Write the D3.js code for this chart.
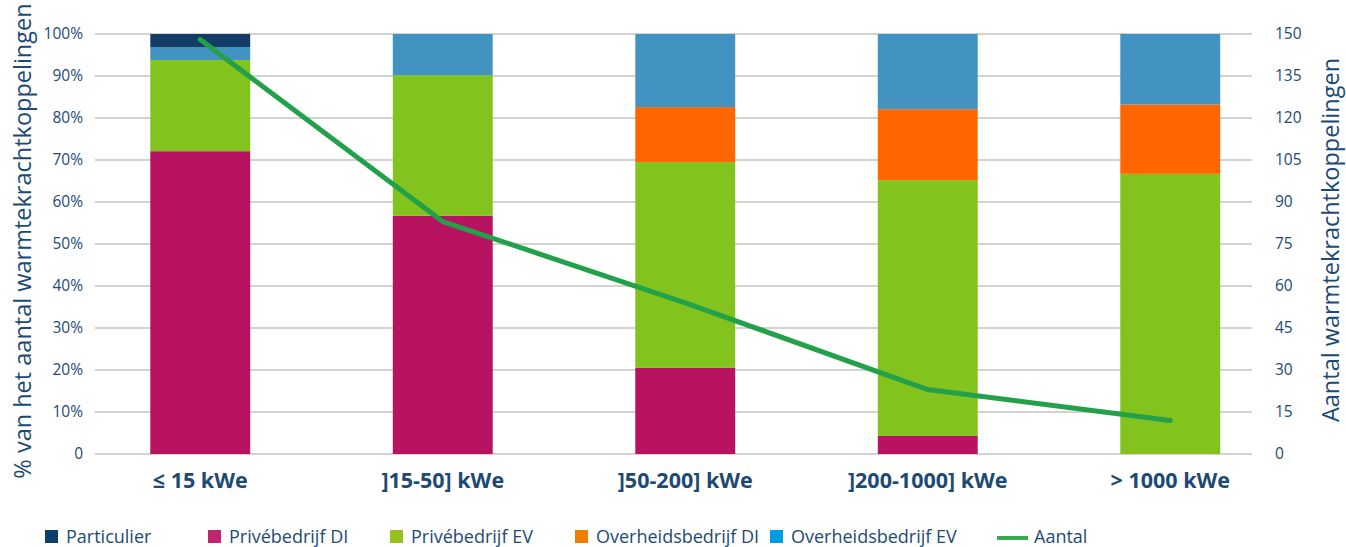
<!DOCTYPE html>
<html><head><meta charset="utf-8">
<script src="https://cdn.jsdelivr.net/npm/d3@7"></script>
<style>body{margin:0;background:#fff}svg{display:block}</style>
</head><body>
<svg id="chart" width="1346" height="547"></svg>
<script>
const categories = ["≤ 15 kWe", "]15-50] kWe", "]50-200] kWe", "]200-1000] kWe", "> 1000 kWe"];
const seriesNames = ["Particulier", "Privébedrijf DI", "Privébedrijf EV", "Overheidsbedrijf DI", "Overheidsbedrijf EV"];
const particulier = [3.1, 0, 0, 0, 0];
const priveDI = [72.1, 56.7, 20.5, 4.3, 0];
const priveEV = [21.7, 33.5, 49.0, 60.9, 66.7];
const overheidDI = [0, 0, 13.1, 16.9, 16.5];
const overheidEV = [3.1, 9.8, 17.4, 17.9, 16.8];
const aantal = [148, 83, 54, 23, 12];
const leftTicks = [0,10,20,30,40,50,60,70,80,90,100];
const rightTicks = [0,15,30,45,60,75,90,105,120,135,150];

const barColors = {"Particulier":"#143d66","Privébedrijf DI":"#b81360","Privébedrijf EV":"#82c31e","Overheidsbedrijf DI":"#ff6600","Overheidsbedrijf EV":"#4292c2"};
const legendColors = {"Particulier":"#0c3f6b","Privébedrijf DI":"#c0256e","Privébedrijf EV":"#97c11f","Overheidsbedrijf DI":"#f07f00","Overheidsbedrijf EV":"#009ee0"};
const textColor = "#1c4a75";
const font = "'Open Sans', sans-serif";

const stackOrder = ["Privébedrijf DI","Privébedrijf EV","Overheidsbedrijf DI","Overheidsbedrijf EV","Particulier"];
const valuesBy = {"Particulier":particulier,"Privébedrijf DI":priveDI,"Privébedrijf EV":priveEV,"Overheidsbedrijf DI":overheidDI,"Overheidsbedrijf EV":overheidEV};
const rows = categories.map((c,i)=>{const r={cat:c}; seriesNames.forEach(s=>r[s]=valuesBy[s][i]); return r;});

const svg = d3.select("#chart");
const x = d3.scaleBand().domain(categories).range([79, 1291.5]).paddingInner(0.588).paddingOuter(0.294);
const y = d3.scaleLinear().domain([0,100]).range([454,34]);
const y2 = d3.scaleLinear().domain([0,150]).range([454,34]);
const gridX0 = 95, gridX1 = 1252;

svg.append("g").selectAll("line").data(leftTicks).join("line")
  .attr("x1",gridX0).attr("x2",gridX1).attr("y1",d=>y(d)).attr("y2",d=>y(d))
  .attr("stroke","#c4c4c4").attr("stroke-width",1.5);

const stack = d3.stack().keys(stackOrder)(rows);
svg.append("g").selectAll("g").data(stack).join("g")
  .attr("fill",d=>barColors[d.key])
  .selectAll("rect").data(d=>d).join("rect")
  .attr("x",d=>x(d.data.cat)).attr("width",x.bandwidth())
  .attr("y",d=>y(d[1])).attr("height",d=>Math.max(0,y(d[0])-y(d[1])));

const line = d3.line().x((d,i)=>x(categories[i])+x.bandwidth()/2).y(d=>y2(d));
svg.append("path").datum(aantal).attr("d",line).attr("fill","none")
  .attr("stroke","#23a04a").attr("stroke-width",5).attr("stroke-linecap","round").attr("stroke-linejoin","round");

svg.append("g").selectAll("text").data(leftTicks).join("text")
  .attr("x",83).attr("y",d=>y(d)).attr("dy","0.35em").attr("text-anchor","end")
  .attr("font-family",font).attr("font-size",15.5).attr("fill",textColor)
  .text(d=>d===0?"0":d+"%");

svg.append("g").selectAll("text").data(rightTicks).join("text")
  .attr("x",1275).attr("y",d=>y2(d)).attr("dy","0.35em").attr("text-anchor","start")
  .attr("font-family",font).attr("font-size",15.5).attr("fill",textColor)
  .text(d=>d);

svg.append("g").selectAll("text").data(categories).join("text")
  .attr("x",d=>x(d)+x.bandwidth()/2).attr("y",480).attr("dy","0.35em").attr("text-anchor","middle")
  .attr("font-family",font).attr("font-weight","bold").attr("font-size",21.5).attr("fill",textColor)
  .text(d=>d);

svg.append("text").attr("transform","translate(31,241) rotate(-90)").attr("text-anchor","middle")
  .attr("font-family",font).attr("font-size",23.5).attr("fill",textColor)
  .text("% van het aantal warmtekrachtkoppelingen");
svg.append("text").attr("transform","translate(1339,240) rotate(-90)").attr("text-anchor","middle")
  .attr("font-family",font).attr("font-size",23.5).attr("fill",textColor)
  .text("Aantal warmtekrachtkoppelingen");

const legendItems = [
  {name:"Particulier", x:45},
  {name:"Privébedrijf DI", x:208},
  {name:"Privébedrijf EV", x:390},
  {name:"Overheidsbedrijf DI", x:575},
  {name:"Overheidsbedrijf EV", x:770}
];
const lg = svg.append("g");
legendItems.forEach(it=>{
  lg.append("rect").attr("x",it.x).attr("y",530).attr("width",13).attr("height",13).attr("fill",legendColors[it.name]);
  lg.append("text").attr("x",it.x+21).attr("y",537).attr("dy","0.35em")
    .attr("font-family",font).attr("font-size",18).attr("fill",textColor).text(it.name);
});
lg.append("line").attr("x1",997).attr("x2",1028).attr("y1",538).attr("y2",538).attr("stroke","#39aa4e").attr("stroke-width",4);
lg.append("text").attr("x",1034).attr("y",537).attr("dy","0.35em")
  .attr("font-family",font).attr("font-size",18).attr("fill",textColor).text("Aantal");
</script>
</body></html>
